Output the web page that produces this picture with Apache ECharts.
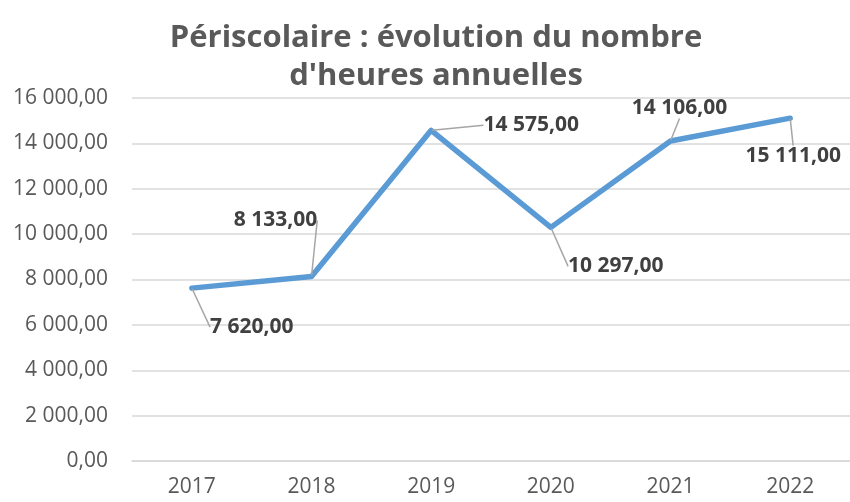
<!DOCTYPE html>
<html>
<head>
<meta charset="utf-8">
<script src="https://cdn.jsdelivr.net/npm/echarts@6/dist/echarts.min.js"></script>
<style>
  html,body{margin:0;padding:0;background:#fff;}
  #chart{width:850px;height:502px;}
</style>
</head>
<body>
<div id="chart"></div>
<script>
var years = ['2017', '2018', '2019', '2020', '2021', '2022'];
var heures = [7620, 8133, 14575, 10297, 14106, 15111];
// where each value label sits, relative to its point (dx, dy)
var labelShift = [[60, 39], [-36, -56], [100, -5], [65, 39], [9, -33], [3, 38]];

var GREY = '#595959';
var FONT = '"Open Sans", sans-serif';

function fmt(v){
	var s = Math.round(v).toString();
	s = s.replace(/\B(?=(\d{3})+(?!\d))/g, ' ');
	return s + ',00';
}

var chart = echarts.init(document.getElementById('chart'));
var option = {
	backgroundColor: '#fff',
	animation: false,
	title: {
		text: 'Périscolaire : évolution du nombre\nd\'heures annuelles',
		left: 431,
		top: 14,
		textAlign: 'center',
		textStyle: {
			color: GREY,
			fontFamily: FONT,
			fontWeight: 'bold',
			fontSize: 31,
			lineHeight: 38
		}
	},
	grid: {
		left: 132,
		right: 0,
		top: 98,
		bottom: 41,
		containLabel: false
	},
	xAxis: {
		type: 'category',
		data: years,
		boundaryGap: true,
		axisLine: {lineStyle: {color: '#D9D9D9', width: 1.5}},
		axisTick: {show: false},
		axisLabel: {
			color: GREY,
			fontFamily: FONT,
			fontSize: 21,
			margin: 16
		}
	},
	yAxis: {
		type: 'value',
		min: 0,
		max: 16000,
		interval: 2000,
		axisLine: {show: false},
		axisTick: {show: false},
		splitLine: {lineStyle: {color: '#D9D9D9', width: 1.5}},
		axisLabel: {
			color: GREY,
			fontFamily: FONT,
			fontSize: 21,
			margin: 24,
			formatter: fmt
		}
	},
	series: [{
		type: 'line',
		data: heures,
		symbol: 'circle',
		symbolSize: 2,
		showSymbol: true,
		itemStyle: {color: '#5B9BD5'},
		lineStyle: {color: '#5B9BD5', width: 5.5, cap: 'round', join: 'round'},
		label: {
			show: true,
			position: 'inside',
			color: '#404040',
			fontFamily: FONT,
			fontWeight: 'bold',
			fontSize: 21,
			formatter: function(p){ return fmt(p.value); }
		},
		labelLine: {
			show: true,
			lineStyle: {color: '#A6A6A6', width: 1.5}
		},
		labelLayout: function(params){
			var d = labelShift[params.dataIndex];
			return {dx: d[0], dy: d[1]};
		}
	}]
};
chart.setOption(option);
</script>
</body>
</html>
